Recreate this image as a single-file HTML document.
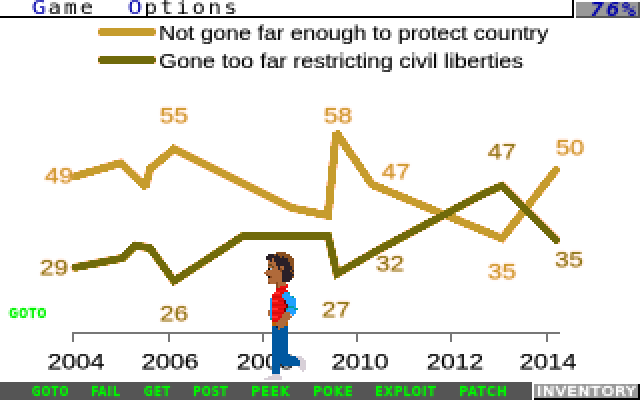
<!DOCTYPE html>
<html><head><meta charset="utf-8"><title>Game</title>
<style>
html,body{margin:0;padding:0;background:#fff;}
body{width:640px;height:400px;position:relative;overflow:hidden;font-family:"Liberation Sans",sans-serif;}
.abs{position:absolute;}
#menubar{position:absolute;left:0;top:0;width:572px;height:16px;border-bottom:2px solid #000;border-right:2px solid #000;background:#fff;overflow:hidden;}
#menubar span{position:absolute;top:-4.4px;font-family:"DejaVu Sans Mono","Liberation Mono",monospace;font-weight:normal;font-size:19px;line-height:22px;letter-spacing:2.47px;white-space:pre;color:#000;transform:scaleX(1.15);transform-origin:0 0;}
#menubar b{color:#0000aa;font-weight:normal;display:inline-block;transform:scaleX(1.1);transform-origin:15% 50%;}
#score{position:absolute;left:576px;top:2px;width:62px;height:14px;background:#999;border-bottom:2px solid #555;border-right:2px solid #555;overflow:hidden;}
#score span{position:absolute;left:13.5px;top:-4.5px;transform:scaleX(1.2);transform-origin:0 0;font-family:"DejaVu Sans Mono","Liberation Mono",monospace;font-style:italic;font-weight:bold;font-size:19px;line-height:22px;letter-spacing:1.9px;color:#0000aa;white-space:pre;}
.leg{position:absolute;left:159px;font-size:20.3px;line-height:24px;color:#000;-webkit-text-stroke:0.22px #000;white-space:nowrap;transform-origin:0 0;transform:scaleX(1.13);}
.lab{position:absolute;width:60px;text-align:center;font-size:22.3px;line-height:24px;transform:scaleX(1.15);text-shadow:0 0 1px #ffb080,0 0 2px #ffa870;}
.yr{position:absolute;width:80px;text-align:center;top:350.3px;font-size:22.3px;line-height:24px;color:#000;-webkit-text-stroke:0.25px #000;transform:scaleX(1.15);}
#goto{position:absolute;left:9.2px;top:305px;font-family:"DejaVu Sans Condensed","DejaVu Sans","Liberation Sans",sans-serif;font-weight:bold;font-size:13.7px;line-height:16px;color:#00f400;-webkit-text-stroke:0.3px #00f400;letter-spacing:1px;white-space:nowrap;transform-origin:0 0;transform:scaleX(0.881);}
#bar{position:absolute;left:0;top:382px;width:532px;height:18px;background:#555;}
.verb{position:absolute;top:383px;font-family:"DejaVu Sans Condensed","DejaVu Sans","Liberation Sans",sans-serif;font-weight:bold;font-size:13.7px;line-height:16px;color:#00f400;-webkit-text-stroke:0.3px #00f400;letter-spacing:1px;white-space:nowrap;transform-origin:0 0;}
#inv{position:absolute;left:534px;top:384px;width:104px;height:14px;background:#999;border-right:2px solid #000;border-bottom:2px solid #000;overflow:hidden;}
#inv span{position:absolute;left:3px;top:-1px;font-family:"DejaVu Sans Condensed","DejaVu Sans","Liberation Sans",sans-serif;font-weight:normal;-webkit-text-stroke:0.65px #fff;font-size:13.7px;line-height:16px;color:#fff;letter-spacing:1px;white-space:nowrap;transform-origin:0 0;transform:scaleX(1.25);}
svg{position:absolute;left:0;top:0;}
#wrap{position:absolute;left:0;top:0;width:640px;height:400px;overflow:hidden;background:#fff;filter:url(#pix);}
</style></head><body>
<svg width="0" height="0" style="position:absolute"><defs>
<filter id="pix" filterUnits="userSpaceOnUse" primitiveUnits="userSpaceOnUse" x="0" y="0" width="640" height="400" color-interpolation-filters="sRGB">
<feConvolveMatrix in="SourceGraphic" order="2" kernelMatrix="1 1 1 1" divisor="4" targetX="0" targetY="0" edgeMode="duplicate" preserveAlpha="false" result="avg"/>
<feFlood x="0" y="0" width="1" height="1" flood-color="#000" result="dot"/>
<feComposite in="dot" in2="dot" operator="over" x="0" y="0" width="2" height="2" result="cell"/>
<feTile in="cell" result="grid"/>
<feComposite in="avg" in2="grid" operator="in" result="s"/>
<feOffset in="s" dx="1" dy="0" result="s1"/>
<feOffset in="s" dx="0" dy="1" result="s2"/>
<feOffset in="s" dx="1" dy="1" result="s3"/>
<feMerge><feMergeNode in="s"/><feMergeNode in="s1"/><feMergeNode in="s2"/><feMergeNode in="s3"/></feMerge>
</filter></defs></svg>
<div id="wrap">
<div id="menubar"><span style="left:32.2px"><b>G</b>ame</span><span style="left:127.8px"><b>O</b>ptions</span></div>
<div id="score"><span>76%</span></div>
<svg width="640" height="400" viewBox="0 0 640 400" shape-rendering="crispEdges">
<rect x="72" y="332" width="488" height="2" fill="#777"/>
<rect x="72" y="332" width="2" height="10" fill="#777"/><rect x="168" y="332" width="2" height="10" fill="#777"/><rect x="262" y="332" width="2" height="10" fill="#777"/><rect x="356" y="332" width="2" height="10" fill="#777"/><rect x="450" y="332" width="2" height="10" fill="#777"/><rect x="546" y="332" width="2" height="10" fill="#777"/>
<path fill="#ffc8a0" d="M98 28h2v2h-2zM154 28h2v2h-2zM98 34h2v2h-2zM154 34h2v2h-2zM98 56h2v2h-2zM154 56h2v2h-2zM98 62h2v2h-2zM154 62h2v2h-2zM346 140h2v2h-2zM330 142h2v2h-2zM174 144h2v2h-2zM330 144h2v2h-2zM338 144h2v2h-2zM178 146h2v2h-2zM350 146h2v2h-2zM182 148h2v2h-2zM186 150h2v2h-2zM162 152h2v2h-2zM190 152h2v2h-2zM354 152h2v2h-2zM172 154h2v2h-2zM176 154h2v2h-2zM194 154h2v2h-2zM180 156h2v2h-2zM198 156h2v2h-2zM120 158h2v2h-2zM184 158h2v2h-2zM202 158h2v2h-2zM112 160h2v2h-2zM188 160h2v2h-2zM206 160h2v2h-2zM350 160h2v2h-2zM106 162h2v2h-2zM150 162h2v2h-2zM192 162h2v2h-2zM210 162h2v2h-2zM328 162h2v2h-2zM160 164h2v2h-2zM196 164h2v2h-2zM214 164h2v2h-2zM328 164h2v2h-2zM336 164h2v2h-2zM92 166h2v2h-2zM200 166h2v2h-2zM218 166h2v2h-2zM336 166h2v2h-2zM354 166h2v2h-2zM114 168h2v2h-2zM204 168h2v2h-2zM222 168h2v2h-2zM78 170h2v2h-2zM134 170h2v2h-2zM208 170h2v2h-2zM226 170h2v2h-2zM72 172h2v2h-2zM100 172h2v2h-2zM136 172h2v2h-2zM144 172h2v2h-2zM152 172h2v2h-2zM212 172h2v2h-2zM230 172h2v2h-2zM368 172h2v2h-2zM138 174h2v2h-2zM216 174h2v2h-2zM234 174h2v2h-2zM546 174h2v2h-2zM556 174h2v2h-2zM70 176h2v2h-2zM86 176h2v2h-2zM140 176h2v2h-2zM220 176h2v2h-2zM238 176h2v2h-2zM224 178h2v2h-2zM242 178h2v2h-2zM372 178h2v2h-2zM150 180h2v2h-2zM228 180h2v2h-2zM246 180h2v2h-2zM232 182h2v2h-2zM250 182h2v2h-2zM326 182h2v2h-2zM378 182h2v2h-2zM504 182h2v2h-2zM236 184h2v2h-2zM254 184h2v2h-2zM326 184h2v2h-2zM334 184h2v2h-2zM506 184h2v2h-2zM538 184h2v2h-2zM240 186h2v2h-2zM258 186h2v2h-2zM334 186h2v2h-2zM368 186h2v2h-2zM488 186h2v2h-2zM508 186h2v2h-2zM244 188h2v2h-2zM262 188h2v2h-2zM392 188h2v2h-2zM510 188h2v2h-2zM248 190h2v2h-2zM266 190h2v2h-2zM376 190h2v2h-2zM512 190h2v2h-2zM252 192h2v2h-2zM270 192h2v2h-2zM402 192h2v2h-2zM514 192h2v2h-2zM532 192h2v2h-2zM542 192h2v2h-2zM256 194h2v2h-2zM274 194h2v2h-2zM386 194h2v2h-2zM490 194h2v2h-2zM516 194h2v2h-2zM260 196h2v2h-2zM278 196h2v2h-2zM468 196h2v2h-2zM518 196h2v2h-2zM264 198h2v2h-2zM282 198h2v2h-2zM416 198h2v2h-2zM464 198h2v2h-2zM520 198h2v2h-2zM268 200h2v2h-2zM286 200h2v2h-2zM400 200h2v2h-2zM522 200h2v2h-2zM272 202h2v2h-2zM290 202h2v2h-2zM426 202h2v2h-2zM524 202h2v2h-2zM534 202h2v2h-2zM276 204h2v2h-2zM296 204h2v2h-2zM324 204h2v2h-2zM332 204h2v2h-2zM410 204h2v2h-2zM470 204h2v2h-2zM280 206h2v2h-2zM306 206h2v2h-2zM332 206h2v2h-2zM466 206h2v2h-2zM284 208h2v2h-2zM316 208h2v2h-2zM440 208h2v2h-2zM530 208h2v2h-2zM288 210h2v2h-2zM424 210h2v2h-2zM532 210h2v2h-2zM296 212h2v2h-2zM516 212h2v2h-2zM534 212h2v2h-2zM434 214h2v2h-2zM536 214h2v2h-2zM314 216h2v2h-2zM460 216h2v2h-2zM538 216h2v2h-2zM324 218h2v2h-2zM444 218h2v2h-2zM464 218h2v2h-2zM540 218h2v2h-2zM440 220h2v2h-2zM520 220h2v2h-2zM542 220h2v2h-2zM474 222h2v2h-2zM508 222h2v2h-2zM544 222h2v2h-2zM458 224h2v2h-2zM546 224h2v2h-2zM484 226h2v2h-2zM548 226h2v2h-2zM408 228h2v2h-2zM468 228h2v2h-2zM550 228h2v2h-2zM404 230h2v2h-2zM502 230h2v2h-2zM512 230h2v2h-2zM552 230h2v2h-2zM498 232h2v2h-2zM554 232h2v2h-2zM236 234h2v2h-2zM414 234h2v2h-2zM482 234h2v2h-2zM556 234h2v2h-2zM410 236h2v2h-2zM558 236h2v2h-2zM230 238h2v2h-2zM332 238h2v2h-2zM492 238h2v2h-2zM324 240h2v2h-2zM504 240h2v2h-2zM144 242h2v2h-2zM224 242h2v2h-2zM502 242h2v2h-2zM558 242h2v2h-2zM378 244h2v2h-2zM326 248h2v2h-2zM142 250h2v2h-2zM156 250h2v2h-2zM384 250h2v2h-2zM364 252h2v2h-2zM380 252h2v2h-2zM116 254h2v2h-2zM106 256h2v2h-2zM96 258h2v2h-2zM152 258h2v2h-2zM162 258h2v2h-2zM214 258h2v2h-2zM86 260h2v2h-2zM350 260h2v2h-2zM366 260h2v2h-2zM76 262h2v2h-2zM118 262h2v2h-2zM208 262h2v2h-2zM108 264h2v2h-2zM190 264h2v2h-2zM338 264h2v2h-2zM70 266h2v2h-2zM98 266h2v2h-2zM158 266h2v2h-2zM202 266h2v2h-2zM184 268h2v2h-2zM352 268h2v2h-2zM72 270h2v2h-2zM172 272h2v2h-2zM178 272h2v2h-2zM332 274h2v2h-2zM342 274h2v2h-2zM168 280h2v2h-2zM174 284h2v2h-2z"/>
<path fill="#c69c2d" d="M100 28h54v2h-54zM98 30h58v2h-58zM98 32h58v2h-58zM100 34h54v2h-54zM336 130h4v2h-4zM332 132h10v2h-10zM332 134h10v2h-10zM332 136h12v2h-12zM332 138h14v2h-14zM332 140h14v2h-14zM332 142h16v2h-16zM172 144h2v2h-2zM332 144h6v2h-6zM340 144h10v2h-10zM170 146h8v2h-8zM330 146h8v2h-8zM342 146h8v2h-8zM168 148h14v2h-14zM330 148h8v2h-8zM342 148h10v2h-10zM166 150h20v2h-20zM330 150h8v2h-8zM344 150h10v2h-10zM164 152h26v2h-26zM330 152h8v2h-8zM346 152h8v2h-8zM160 154h12v2h-12zM178 154h16v2h-16zM330 154h8v2h-8zM346 154h10v2h-10zM158 156h12v2h-12zM182 156h16v2h-16zM330 156h8v2h-8zM348 156h10v2h-10zM156 158h12v2h-12zM186 158h16v2h-16zM330 158h8v2h-8zM350 158h10v2h-10zM114 160h10v2h-10zM154 160h12v2h-12zM190 160h16v2h-16zM330 160h8v2h-8zM352 160h8v2h-8zM108 162h18v2h-18zM152 162h12v2h-12zM194 162h16v2h-16zM330 162h8v2h-8zM352 162h10v2h-10zM100 164h28v2h-28zM148 164h12v2h-12zM198 164h16v2h-16zM330 164h6v2h-6zM354 164h10v2h-10zM94 166h36v2h-36zM146 166h12v2h-12zM202 166h16v2h-16zM328 166h8v2h-8zM356 166h8v2h-8zM554 166h4v2h-4zM86 168h28v2h-28zM122 168h10v2h-10zM146 168h10v2h-10zM206 168h16v2h-16zM328 168h8v2h-8zM356 168h10v2h-10zM552 168h8v2h-8zM80 170h28v2h-28zM124 170h10v2h-10zM146 170h8v2h-8zM210 170h16v2h-16zM328 170h8v2h-8zM358 170h10v2h-10zM550 170h10v2h-10zM74 172h26v2h-26zM126 172h10v2h-10zM146 172h6v2h-6zM214 172h16v2h-16zM328 172h8v2h-8zM360 172h8v2h-8zM548 172h10v2h-10zM72 174h22v2h-22zM128 174h10v2h-10zM144 174h8v2h-8zM218 174h16v2h-16zM328 174h8v2h-8zM360 174h10v2h-10zM548 174h8v2h-8zM72 176h14v2h-14zM130 176h10v2h-10zM144 176h8v2h-8zM222 176h16v2h-16zM328 176h8v2h-8zM362 176h10v2h-10zM546 176h10v2h-10zM72 178h8v2h-8zM132 178h20v2h-20zM226 178h16v2h-16zM328 178h8v2h-8zM364 178h8v2h-8zM544 178h10v2h-10zM134 180h16v2h-16zM230 180h16v2h-16zM328 180h8v2h-8zM364 180h10v2h-10zM542 180h10v2h-10zM136 182h14v2h-14zM234 182h16v2h-16zM328 182h8v2h-8zM366 182h12v2h-12zM540 182h10v2h-10zM138 184h12v2h-12zM238 184h16v2h-16zM328 184h6v2h-6zM368 184h16v2h-16zM540 184h10v2h-10zM140 186h10v2h-10zM242 186h16v2h-16zM326 186h8v2h-8zM370 186h18v2h-18zM538 186h10v2h-10zM142 188h4v2h-4zM246 188h16v2h-16zM326 188h8v2h-8zM372 188h20v2h-20zM536 188h10v2h-10zM250 190h16v2h-16zM326 190h8v2h-8zM378 190h20v2h-20zM534 190h10v2h-10zM254 192h16v2h-16zM326 192h8v2h-8zM382 192h20v2h-20zM534 192h8v2h-8zM258 194h16v2h-16zM326 194h8v2h-8zM388 194h20v2h-20zM532 194h10v2h-10zM262 196h16v2h-16zM326 196h8v2h-8zM392 196h20v2h-20zM530 196h10v2h-10zM266 198h16v2h-16zM326 198h8v2h-8zM396 198h20v2h-20zM528 198h10v2h-10zM270 200h16v2h-16zM326 200h8v2h-8zM402 200h20v2h-20zM526 200h10v2h-10zM274 202h16v2h-16zM326 202h8v2h-8zM406 202h20v2h-20zM526 202h8v2h-8zM278 204h18v2h-18zM326 204h6v2h-6zM412 204h20v2h-20zM526 204h8v2h-8zM282 206h24v2h-24zM324 206h8v2h-8zM416 206h20v2h-20zM528 206h4v2h-4zM286 208h30v2h-30zM324 208h8v2h-8zM420 208h20v2h-20zM290 210h42v2h-42zM426 210h18v2h-18zM518 210h4v2h-4zM298 212h34v2h-34zM430 212h10v2h-10zM518 212h6v2h-6zM306 214h26v2h-26zM452 214h4v2h-4zM516 214h10v2h-10zM316 216h16v2h-16zM448 216h12v2h-12zM514 216h10v2h-10zM326 218h6v2h-6zM446 218h18v2h-18zM512 218h10v2h-10zM450 220h20v2h-20zM510 220h10v2h-10zM454 222h20v2h-20zM510 222h10v2h-10zM460 224h20v2h-20zM508 224h10v2h-10zM464 226h20v2h-20zM506 226h10v2h-10zM470 228h20v2h-20zM504 228h10v2h-10zM474 230h20v2h-20zM504 230h8v2h-8zM478 232h20v2h-20zM502 232h10v2h-10zM484 234h26v2h-26zM488 236h20v2h-20zM494 238h12v2h-12zM498 240h6v2h-6z"/>
<path fill="#706a0a" d="M100 56h54v2h-54zM98 58h58v2h-58zM98 60h58v2h-58zM100 62h54v2h-54zM500 182h4v2h-4zM494 184h12v2h-12zM490 186h18v2h-18zM486 188h24v2h-24zM482 190h16v2h-16zM502 190h10v2h-10zM478 192h16v2h-16zM504 192h10v2h-10zM474 194h16v2h-16zM506 194h10v2h-10zM470 196h16v2h-16zM508 196h10v2h-10zM466 198h16v2h-16zM510 198h10v2h-10zM462 200h16v2h-16zM512 200h10v2h-10zM458 202h16v2h-16zM514 202h10v2h-10zM454 204h16v2h-16zM516 204h10v2h-10zM452 206h14v2h-14zM518 206h10v2h-10zM448 208h14v2h-14zM520 208h10v2h-10zM444 210h14v2h-14zM522 210h10v2h-10zM440 212h14v2h-14zM524 212h10v2h-10zM436 214h16v2h-16zM526 214h10v2h-10zM432 216h16v2h-16zM528 216h10v2h-10zM428 218h16v2h-16zM530 218h10v2h-10zM424 220h16v2h-16zM532 220h10v2h-10zM422 222h14v2h-14zM534 222h10v2h-10zM418 224h14v2h-14zM536 224h10v2h-10zM414 226h14v2h-14zM538 226h10v2h-10zM410 228h16v2h-16zM540 228h10v2h-10zM406 230h16v2h-16zM542 230h10v2h-10zM242 232h88v2h-88zM402 232h16v2h-16zM544 232h10v2h-10zM238 234h94v2h-94zM398 234h16v2h-16zM546 234h10v2h-10zM234 236h98v2h-98zM394 236h16v2h-16zM548 236h10v2h-10zM232 238h100v2h-100zM392 238h14v2h-14zM550 238h10v2h-10zM228 240h14v2h-14zM326 240h6v2h-6zM388 240h14v2h-14zM552 240h8v2h-8zM132 242h10v2h-10zM226 242h12v2h-12zM326 242h8v2h-8zM384 242h14v2h-14zM554 242h4v2h-4zM130 244h22v2h-22zM222 244h14v2h-14zM326 244h8v2h-8zM380 244h16v2h-16zM128 246h26v2h-26zM220 246h12v2h-12zM328 246h6v2h-6zM376 246h16v2h-16zM126 248h30v2h-30zM216 248h14v2h-14zM328 248h6v2h-6zM372 248h16v2h-16zM124 250h10v2h-10zM146 250h10v2h-10zM214 250h12v2h-12zM328 250h8v2h-8zM370 250h14v2h-14zM122 252h10v2h-10zM150 252h8v2h-8zM210 252h14v2h-14zM328 252h8v2h-8zM366 252h14v2h-14zM120 254h10v2h-10zM150 254h10v2h-10zM208 254h12v2h-12zM328 254h8v2h-8zM362 254h14v2h-14zM110 256h18v2h-18zM152 256h8v2h-8zM204 256h14v2h-14zM330 256h6v2h-6zM358 256h14v2h-14zM100 258h26v2h-26zM154 258h8v2h-8zM202 258h12v2h-12zM330 258h8v2h-8zM356 258h14v2h-14zM90 260h34v2h-34zM156 260h8v2h-8zM198 260h14v2h-14zM330 260h8v2h-8zM352 260h14v2h-14zM80 262h36v2h-36zM156 262h10v2h-10zM196 262h12v2h-12zM330 262h8v2h-8zM348 262h14v2h-14zM72 264h34v2h-34zM158 264h8v2h-8zM192 264h12v2h-12zM332 264h6v2h-6zM346 264h14v2h-14zM72 266h24v2h-24zM160 266h8v2h-8zM188 266h14v2h-14zM332 266h6v2h-6zM342 266h14v2h-14zM72 268h14v2h-14zM160 268h10v2h-10zM186 268h12v2h-12zM332 268h20v2h-20zM162 270h10v2h-10zM182 270h14v2h-14zM332 270h16v2h-16zM164 272h8v2h-8zM180 272h12v2h-12zM334 272h12v2h-12zM166 274h8v2h-8zM176 274h14v2h-14zM334 274h8v2h-8zM166 276h20v2h-20zM334 276h4v2h-4zM168 278h16v2h-16zM170 280h10v2h-10zM172 282h6v2h-6zM172 284h2v2h-2z"/>
<path fill="#ffe8dc" d="M334 130h2v2h-2zM342 134h2v2h-2zM330 140h2v2h-2zM338 146h4v2h-4zM338 148h2v2h-2zM164 150h2v2h-2zM344 152h2v2h-2zM356 154h2v2h-2zM170 156h2v2h-2zM118 158h2v2h-2zM122 158h2v2h-2zM154 158h2v2h-2zM168 158h2v2h-2zM348 158h2v2h-2zM124 160h2v2h-2zM152 160h2v2h-2zM328 160h2v2h-2zM360 160h2v2h-2zM104 162h2v2h-2zM126 162h2v2h-2zM98 164h2v2h-2zM128 164h2v2h-2zM130 166h2v2h-2zM158 166h2v2h-2zM364 166h2v2h-2zM552 166h2v2h-2zM558 166h2v2h-2zM84 168h2v2h-2zM120 168h2v2h-2zM132 168h2v2h-2zM156 168h2v2h-2zM336 168h2v2h-2zM108 170h2v2h-2zM122 170h2v2h-2zM144 170h2v2h-2zM124 172h2v2h-2zM358 172h2v2h-2zM558 172h2v2h-2zM70 174h2v2h-2zM94 174h2v2h-2zM126 174h2v2h-2zM152 174h2v2h-2zM128 176h2v2h-2zM544 176h2v2h-2zM80 178h2v2h-2zM130 178h2v2h-2zM362 178h2v2h-2zM326 180h2v2h-2zM374 180h2v2h-2zM502 180h2v2h-2zM552 180h2v2h-2zM150 182h2v2h-2zM496 182h2v2h-2zM550 182h2v2h-2zM366 184h2v2h-2zM492 184h2v2h-2zM388 186h2v2h-2zM536 186h2v2h-2zM146 188h2v2h-2zM334 188h2v2h-2zM398 190h2v2h-2zM500 190h2v2h-2zM544 190h2v2h-2zM380 192h2v2h-2zM530 194h2v2h-2zM390 196h2v2h-2zM412 196h2v2h-2zM486 196h2v2h-2zM482 198h2v2h-2zM324 200h2v2h-2zM422 200h2v2h-2zM460 200h2v2h-2zM478 200h2v2h-2zM536 200h2v2h-2zM324 202h2v2h-2zM404 202h2v2h-2zM456 202h2v2h-2zM474 202h2v2h-2zM298 204h2v2h-2zM452 204h2v2h-2zM308 206h2v2h-2zM414 206h2v2h-2zM436 206h2v2h-2zM332 208h2v2h-2zM294 212h2v2h-2zM428 212h2v2h-2zM304 214h2v2h-2zM456 214h2v2h-2zM514 214h2v2h-2zM430 216h2v2h-2zM322 218h2v2h-2zM426 218h2v2h-2zM522 218h2v2h-2zM422 220h2v2h-2zM448 220h2v2h-2zM470 220h2v2h-2zM480 224h2v2h-2zM506 224h2v2h-2zM462 226h2v2h-2zM426 228h2v2h-2zM514 228h2v2h-2zM422 230h2v2h-2zM472 230h2v2h-2zM494 230h2v2h-2zM400 232h2v2h-2zM418 232h2v2h-2zM500 232h2v2h-2zM396 234h2v2h-2zM392 236h2v2h-2zM486 236h2v2h-2zM506 238h2v2h-2zM134 240h2v2h-2zM242 240h2v2h-2zM496 240h2v2h-2zM146 242h2v2h-2zM152 244h2v2h-2zM220 244h2v2h-2zM236 244h2v2h-2zM396 244h2v2h-2zM334 246h2v2h-2zM374 246h2v2h-2zM392 246h2v2h-2zM214 248h2v2h-2zM230 248h2v2h-2zM370 248h2v2h-2zM388 248h2v2h-2zM140 250h2v2h-2zM326 250h2v2h-2zM158 252h2v2h-2zM208 252h2v2h-2zM224 252h2v2h-2zM336 254h2v2h-2zM360 254h2v2h-2zM104 256h2v2h-2zM202 256h2v2h-2zM356 256h2v2h-2zM94 258h2v2h-2zM328 258h2v2h-2zM370 258h2v2h-2zM84 260h2v2h-2zM196 260h2v2h-2zM74 262h2v2h-2zM338 262h2v2h-2zM346 262h2v2h-2zM156 264h2v2h-2zM360 264h2v2h-2zM168 266h2v2h-2zM330 266h2v2h-2zM356 266h2v2h-2zM70 268h2v2h-2zM88 268h2v2h-2zM78 270h2v2h-2zM196 270h2v2h-2zM162 272h2v2h-2zM346 272h2v2h-2zM174 274h2v2h-2zM190 274h2v2h-2zM184 278h2v2h-2zM178 282h2v2h-2z"/>
<path fill="#b49a34" d="M498 182h2v2h-2zM484 188h2v2h-2zM480 190h2v2h-2zM498 190h2v2h-2zM476 192h2v2h-2zM494 192h2v2h-2zM472 194h2v2h-2zM450 206h2v2h-2zM446 208h2v2h-2zM462 208h2v2h-2zM458 210h2v2h-2zM454 212h2v2h-2zM420 222h2v2h-2zM436 222h2v2h-2zM416 224h2v2h-2zM432 224h2v2h-2zM412 226h2v2h-2zM428 226h2v2h-2zM240 232h2v2h-2zM330 232h2v2h-2zM390 238h2v2h-2zM406 238h2v2h-2zM332 240h2v2h-2zM386 240h2v2h-2zM402 240h2v2h-2zM142 242h2v2h-2zM238 242h2v2h-2zM382 242h2v2h-2zM398 242h2v2h-2zM218 246h2v2h-2zM232 246h2v2h-2zM326 246h2v2h-2zM334 248h2v2h-2zM134 250h2v2h-2zM144 250h2v2h-2zM212 250h2v2h-2zM226 250h2v2h-2zM368 250h2v2h-2zM132 252h2v2h-2zM148 252h2v2h-2zM118 254h2v2h-2zM130 254h2v2h-2zM206 254h2v2h-2zM220 254h2v2h-2zM376 254h2v2h-2zM108 256h2v2h-2zM128 256h2v2h-2zM160 256h2v2h-2zM328 256h2v2h-2zM336 256h2v2h-2zM372 256h2v2h-2zM98 258h2v2h-2zM126 258h2v2h-2zM200 258h2v2h-2zM354 258h2v2h-2zM88 260h2v2h-2zM124 260h2v2h-2zM154 260h2v2h-2zM78 262h2v2h-2zM116 262h2v2h-2zM194 262h2v2h-2zM362 262h2v2h-2zM106 264h2v2h-2zM166 264h2v2h-2zM204 264h2v2h-2zM330 264h2v2h-2zM344 264h2v2h-2zM96 266h2v2h-2zM338 266h4v2h-4zM86 268h2v2h-2zM198 268h2v2h-2zM74 270h4v2h-4zM348 270h2v2h-2zM192 272h2v2h-2zM332 272h2v2h-2zM164 274h2v2h-2zM186 276h2v2h-2zM338 276h2v2h-2zM334 278h2v2h-2zM180 280h2v2h-2zM170 282h2v2h-2z"/>

</svg>
<div class="leg" style="top:21px;transform:scaleX(1.121)">Not gone far enough to protect country</div>
<div class="leg" style="top:48.5px;transform:scaleX(1.134)">Gone too far restricting civil liberties</div>
<div class="lab" style="left:29.200000000000003px;top:164.3px;color:#cc9a2e">49</div>
<div class="lab" style="left:143.5px;top:104.3px;color:#cc9a2e">55</div>
<div class="lab" style="left:308px;top:104.3px;color:#cc9a2e">58</div>
<div class="lab" style="left:365.7px;top:160.3px;color:#cc9a2e">47</div>
<div class="lab" style="left:471.7px;top:260.3px;color:#cc9a2e">35</div>
<div class="lab" style="left:540px;top:136.3px;color:#cc9a2e">50</div>
<div class="lab" style="left:24.200000000000003px;top:256.3px;color:#887616">29</div>
<div class="lab" style="left:144px;top:302.3px;color:#887616">26</div>
<div class="lab" style="left:305.7px;top:298.3px;color:#887616">27</div>
<div class="lab" style="left:360.2px;top:252.3px;color:#887616">32</div>
<div class="lab" style="left:472px;top:140.3px;color:#887616">47</div>
<div class="lab" style="left:539.2px;top:248.3px;color:#887616">35</div>

<div class="yr" style="left:36px">2004</div>
<div class="yr" style="left:130px">2006</div>
<div class="yr" style="left:225px">2008</div>
<div class="yr" style="left:320px">2010</div>
<div class="yr" style="left:414.5px">2012</div>
<div class="yr" style="left:508px">2014</div>

<div id="goto">GOTO</div>
<svg width="640" height="400" viewBox="0 0 640 400" shape-rendering="crispEdges">
<rect x="276" y="252" width="10" height="2" fill="#8a5020"/>
<rect x="268" y="254" width="6" height="2" fill="#2a2028"/>
<rect x="274" y="254" width="2" height="2" fill="#8a5020"/>
<rect x="276" y="254" width="2" height="2" fill="#2a2028"/>
<rect x="278" y="254" width="12" height="2" fill="#8a5020"/>
<rect x="266" y="256" width="14" height="2" fill="#2a2028"/>
<rect x="280" y="256" width="2" height="2" fill="#8a5020"/>
<rect x="282" y="256" width="2" height="2" fill="#2a2028"/>
<rect x="284" y="256" width="8" height="2" fill="#8a5020"/>
<rect x="266" y="258" width="6" height="2" fill="#2a2028"/>
<rect x="272" y="258" width="2" height="2" fill="#b06a3a"/>
<rect x="274" y="258" width="14" height="2" fill="#2a2028"/>
<rect x="288" y="258" width="6" height="2" fill="#8a5020"/>
<rect x="268" y="260" width="2" height="2" fill="#b06a3a"/>
<rect x="270" y="260" width="2" height="2" fill="#2a2028"/>
<rect x="272" y="260" width="2" height="2" fill="#b06a3a"/>
<rect x="274" y="260" width="14" height="2" fill="#2a2028"/>
<rect x="288" y="260" width="6" height="2" fill="#8a5020"/>
<rect x="268" y="262" width="8" height="2" fill="#b06a3a"/>
<rect x="276" y="262" width="14" height="2" fill="#2a2028"/>
<rect x="290" y="262" width="4" height="2" fill="#8a5020"/>
<rect x="268" y="264" width="4" height="2" fill="#6a4a20"/>
<rect x="272" y="264" width="4" height="2" fill="#b06a3a"/>
<rect x="276" y="264" width="14" height="2" fill="#2a2028"/>
<rect x="290" y="264" width="4" height="2" fill="#8a5020"/>
<rect x="268" y="266" width="4" height="2" fill="#b06a3a"/>
<rect x="272" y="266" width="2" height="2" fill="#6a4a20"/>
<rect x="274" y="266" width="4" height="2" fill="#b06a3a"/>
<rect x="278" y="266" width="2" height="2" fill="#2a2028"/>
<rect x="280" y="266" width="4" height="2" fill="#b06a3a"/>
<rect x="284" y="266" width="8" height="2" fill="#2a2028"/>
<rect x="292" y="266" width="2" height="2" fill="#8a5020"/>
<rect x="268" y="268" width="2" height="2" fill="#000000"/>
<rect x="270" y="268" width="2" height="2" fill="#a8c0d0"/>
<rect x="272" y="268" width="6" height="2" fill="#b06a3a"/>
<rect x="278" y="268" width="2" height="2" fill="#2a2028"/>
<rect x="280" y="268" width="2" height="2" fill="#8a4a20"/>
<rect x="282" y="268" width="2" height="2" fill="#b06a3a"/>
<rect x="284" y="268" width="8" height="2" fill="#2a2028"/>
<rect x="292" y="268" width="2" height="2" fill="#8a5020"/>
<rect x="266" y="270" width="14" height="2" fill="#b06a3a"/>
<rect x="280" y="270" width="2" height="2" fill="#8a4a20"/>
<rect x="282" y="270" width="8" height="2" fill="#2a2028"/>
<rect x="290" y="270" width="2" height="2" fill="#8a5020"/>
<rect x="292" y="270" width="2" height="2" fill="#2a2028"/>
<rect x="264" y="272" width="18" height="2" fill="#b06a3a"/>
<rect x="282" y="272" width="10" height="2" fill="#2a2028"/>
<rect x="292" y="272" width="2" height="2" fill="#8a5020"/>
<rect x="266" y="274" width="2" height="2" fill="#8a4a20"/>
<rect x="268" y="274" width="14" height="2" fill="#b06a3a"/>
<rect x="282" y="274" width="12" height="2" fill="#2a2028"/>
<rect x="268" y="276" width="2" height="2" fill="#000000"/>
<rect x="270" y="276" width="2" height="2" fill="#8a4a20"/>
<rect x="272" y="276" width="10" height="2" fill="#b06a3a"/>
<rect x="282" y="276" width="10" height="2" fill="#2a2028"/>
<rect x="292" y="276" width="2" height="2" fill="#8a5020"/>
<rect x="268" y="278" width="14" height="2" fill="#b06a3a"/>
<rect x="282" y="278" width="10" height="2" fill="#2a2028"/>
<rect x="268" y="280" width="14" height="2" fill="#b06a3a"/>
<rect x="282" y="280" width="8" height="2" fill="#2a2028"/>
<rect x="268" y="282" width="2" height="2" fill="#8a4a20"/>
<rect x="270" y="282" width="6" height="2" fill="#b06a3a"/>
<rect x="276" y="282" width="2" height="2" fill="#8a4a20"/>
<rect x="278" y="282" width="8" height="2" fill="#b06a3a"/>
<rect x="276" y="284" width="2" height="2" fill="#8a4a20"/>
<rect x="278" y="284" width="8" height="2" fill="#b06a3a"/>
<rect x="286" y="284" width="2" height="2" fill="#ee1010"/>
<rect x="276" y="286" width="2" height="2" fill="#8a4a20"/>
<rect x="278" y="286" width="2" height="2" fill="#b06a3a"/>
<rect x="280" y="286" width="8" height="2" fill="#ee1010"/>
<rect x="276" y="288" width="10" height="2" fill="#d80c0c"/>
<rect x="276" y="290" width="12" height="2" fill="#ee1010"/>
<rect x="274" y="292" width="6" height="2" fill="#ff3030"/>
<rect x="280" y="292" width="4" height="2" fill="#d80c0c"/>
<rect x="284" y="292" width="4" height="2" fill="#20a0ff"/>
<rect x="288" y="292" width="2" height="2" fill="#00a0a0"/>
<rect x="272" y="294" width="10" height="2" fill="#ee1010"/>
<rect x="282" y="294" width="8" height="2" fill="#20a0ff"/>
<rect x="272" y="296" width="10" height="2" fill="#d80c0c"/>
<rect x="282" y="296" width="10" height="2" fill="#20a0ff"/>
<rect x="292" y="296" width="2" height="2" fill="#00a0a0"/>
<rect x="270" y="298" width="2" height="2" fill="#20a0ff"/>
<rect x="272" y="298" width="12" height="2" fill="#ee1010"/>
<rect x="284" y="298" width="12" height="2" fill="#20a0ff"/>
<rect x="270" y="300" width="2" height="2" fill="#20a0ff"/>
<rect x="272" y="300" width="6" height="2" fill="#ff3030"/>
<rect x="278" y="300" width="6" height="2" fill="#d80c0c"/>
<rect x="284" y="300" width="2" height="2" fill="#700000"/>
<rect x="286" y="300" width="10" height="2" fill="#20a0ff"/>
<rect x="270" y="302" width="2" height="2" fill="#20a0ff"/>
<rect x="272" y="302" width="12" height="2" fill="#ee1010"/>
<rect x="284" y="302" width="2" height="2" fill="#700000"/>
<rect x="286" y="302" width="10" height="2" fill="#20a0ff"/>
<rect x="270" y="304" width="2" height="2" fill="#20a0ff"/>
<rect x="272" y="304" width="14" height="2" fill="#d80c0c"/>
<rect x="286" y="304" width="2" height="2" fill="#700000"/>
<rect x="288" y="304" width="8" height="2" fill="#20a0ff"/>
<rect x="270" y="306" width="2" height="2" fill="#20a0ff"/>
<rect x="272" y="306" width="14" height="2" fill="#ee1010"/>
<rect x="286" y="306" width="2" height="2" fill="#700000"/>
<rect x="288" y="306" width="6" height="2" fill="#00a0a0"/>
<rect x="294" y="306" width="2" height="2" fill="#20a0ff"/>
<rect x="270" y="308" width="2" height="2" fill="#20a0ff"/>
<rect x="272" y="308" width="6" height="2" fill="#ff3030"/>
<rect x="278" y="308" width="6" height="2" fill="#d80c0c"/>
<rect x="284" y="308" width="2" height="2" fill="#700000"/>
<rect x="286" y="308" width="2" height="2" fill="#00a0a0"/>
<rect x="288" y="308" width="6" height="2" fill="#20a0ff"/>
<rect x="294" y="308" width="4" height="2" fill="#00a0a0"/>
<rect x="268" y="310" width="2" height="2" fill="#b06a3a"/>
<rect x="270" y="310" width="2" height="2" fill="#20a0ff"/>
<rect x="272" y="310" width="12" height="2" fill="#ee1010"/>
<rect x="284" y="310" width="2" height="2" fill="#700000"/>
<rect x="286" y="310" width="10" height="2" fill="#20a0ff"/>
<rect x="268" y="312" width="2" height="2" fill="#b06a3a"/>
<rect x="270" y="312" width="2" height="2" fill="#20a0ff"/>
<rect x="272" y="312" width="12" height="2" fill="#d80c0c"/>
<rect x="284" y="312" width="6" height="2" fill="#b06a3a"/>
<rect x="290" y="312" width="6" height="2" fill="#20a0ff"/>
<rect x="268" y="314" width="2" height="2" fill="#b06a3a"/>
<rect x="270" y="314" width="2" height="2" fill="#20a0ff"/>
<rect x="272" y="314" width="10" height="2" fill="#ee1010"/>
<rect x="282" y="314" width="8" height="2" fill="#b06a3a"/>
<rect x="290" y="314" width="2" height="2" fill="#e8c8c8"/>
<rect x="292" y="314" width="2" height="2" fill="#20a0ff"/>
<rect x="270" y="316" width="2" height="2" fill="#20a0ff"/>
<rect x="272" y="316" width="6" height="2" fill="#ff3030"/>
<rect x="278" y="316" width="4" height="2" fill="#d80c0c"/>
<rect x="282" y="316" width="10" height="2" fill="#b06a3a"/>
<rect x="270" y="318" width="2" height="2" fill="#00a0a0"/>
<rect x="272" y="318" width="8" height="2" fill="#ee1010"/>
<rect x="280" y="318" width="10" height="2" fill="#b06a3a"/>
<rect x="272" y="320" width="6" height="2" fill="#d80c0c"/>
<rect x="278" y="320" width="10" height="2" fill="#b06a3a"/>
<rect x="272" y="322" width="4" height="2" fill="#c06000"/>
<rect x="276" y="322" width="10" height="2" fill="#b06a3a"/>
<rect x="286" y="322" width="2" height="2" fill="#c06000"/>
<rect x="272" y="324" width="4" height="2" fill="#c06000"/>
<rect x="276" y="324" width="10" height="2" fill="#b06a3a"/>
<rect x="286" y="324" width="2" height="2" fill="#c06000"/>
<rect x="272" y="326" width="4" height="2" fill="#0058a0"/>
<rect x="276" y="326" width="2" height="2" fill="#002050"/>
<rect x="278" y="326" width="6" height="2" fill="#b06a3a"/>
<rect x="284" y="326" width="4" height="2" fill="#0058a0"/>
<rect x="272" y="328" width="6" height="2" fill="#0058a0"/>
<rect x="278" y="328" width="2" height="2" fill="#b06a3a"/>
<rect x="280" y="328" width="8" height="2" fill="#0058a0"/>
<rect x="272" y="330" width="16" height="2" fill="#0058a0"/>
<rect x="272" y="332" width="16" height="2" fill="#0058a0"/>
<rect x="272" y="334" width="16" height="2" fill="#0058a0"/>
<rect x="272" y="336" width="16" height="2" fill="#0058a0"/>
<rect x="272" y="338" width="16" height="2" fill="#0058a0"/>
<rect x="272" y="340" width="16" height="2" fill="#0058a0"/>
<rect x="272" y="342" width="16" height="2" fill="#0058a0"/>
<rect x="272" y="344" width="16" height="2" fill="#0058a0"/>
<rect x="272" y="346" width="16" height="2" fill="#0058a0"/>
<rect x="272" y="348" width="16" height="2" fill="#0058a0"/>
<rect x="272" y="350" width="16" height="2" fill="#0058a0"/>
<rect x="272" y="352" width="16" height="2" fill="#0058a0"/>
<rect x="272" y="354" width="18" height="2" fill="#0058a0"/>
<rect x="272" y="356" width="24" height="2" fill="#0058a0"/>
<rect x="296" y="356" width="6" height="2" fill="#d8d0d8"/>
<rect x="272" y="358" width="26" height="2" fill="#0058a0"/>
<rect x="298" y="358" width="6" height="2" fill="#d8d0d8"/>
<rect x="272" y="360" width="28" height="2" fill="#0058a0"/>
<rect x="300" y="360" width="6" height="2" fill="#d8d0d8"/>
<rect x="272" y="362" width="28" height="2" fill="#0058a0"/>
<rect x="300" y="362" width="6" height="2" fill="#d8d0d8"/>
<rect x="272" y="364" width="8" height="2" fill="#0058a0"/>
<rect x="282" y="364" width="18" height="2" fill="#0058a0"/>
<rect x="300" y="364" width="6" height="2" fill="#d8d0d8"/>
<rect x="272" y="366" width="8" height="2" fill="#0058a0"/>
<rect x="298" y="366" width="8" height="2" fill="#d8d0d8"/>
<rect x="272" y="368" width="8" height="2" fill="#0058a0"/>
<rect x="300" y="368" width="6" height="2" fill="#d8d0d8"/>
<rect x="272" y="370" width="8" height="2" fill="#0058a0"/>
<rect x="302" y="370" width="2" height="2" fill="#d8d0d8"/>
<rect x="272" y="372" width="8" height="2" fill="#0058a0"/>
<rect x="272" y="374" width="8" height="2" fill="#d8d0d8"/>
<rect x="268" y="376" width="14" height="2" fill="#d8d0d8"/>
<rect x="264" y="378" width="18" height="2" fill="#d8d0d8"/>
</svg>
<div id="bar"></div>
<div class="verb" style="left:32.00px;transform:scaleX(0.857)">GOTO</div>
<div class="verb" style="left:91.10px;transform:scaleX(0.903)">FAIL</div>
<div class="verb" style="left:144.00px;transform:scaleX(0.897)">GET</div>
<div class="verb" style="left:193.13px;transform:scaleX(0.872)">POST</div>
<div class="verb" style="left:251.00px;transform:scaleX(1.001)">PEEK</div>
<div class="verb" style="left:313.03px;transform:scaleX(0.974)">POKE</div>
<div class="verb" style="left:375.05px;transform:scaleX(0.952)">EXPLOIT</div>
<div class="verb" style="left:459.00px;transform:scaleX(1.000)">PATCH</div>

<div id="inv"><span>INVENTORY</span></div>
</div>
</body></html>
